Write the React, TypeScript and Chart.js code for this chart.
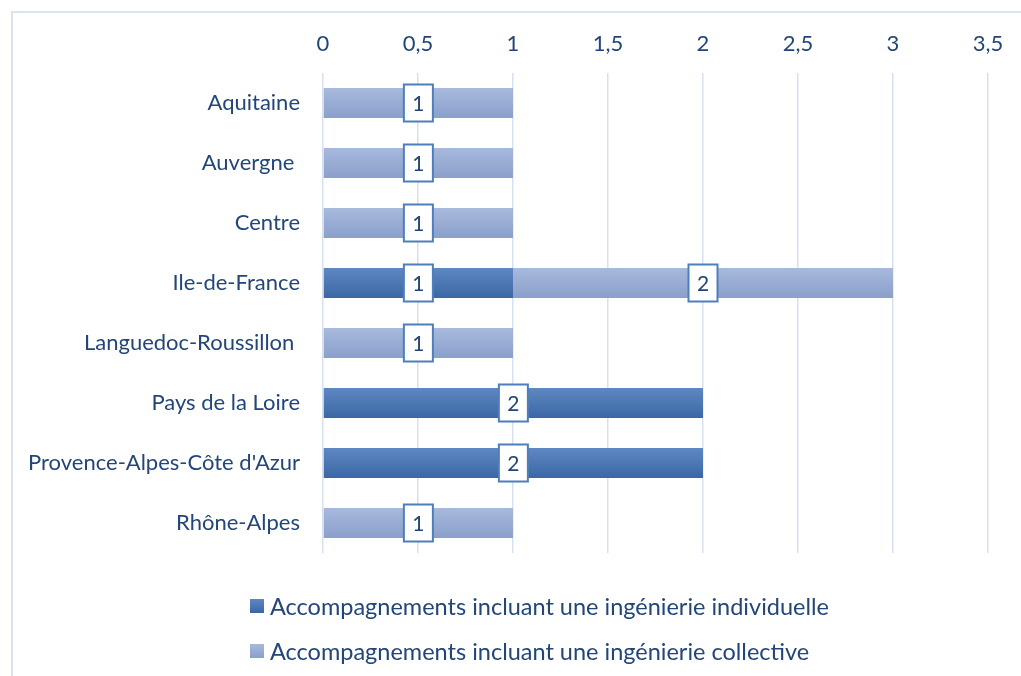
import React, { useEffect, useRef } from "react";
import { Chart, registerables } from "chart.js";

Chart.register(...registerables);

const categories = [
  "Aquitaine",
  "Auvergne ",
  "Centre",
  "Ile-de-France",
  "Languedoc-Roussillon ",
  "Pays de la Loire",
  "Provence-Alpes-Côte d'Azur",
  "Rhône-Alpes",
];
const individuelle = [0, 0, 0, 1, 0, 2, 2, 0];
const collective = [1, 1, 1, 2, 1, 0, 0, 1];
const seriesNames = [
  "Accompagnements incluant une ingénierie individuelle",
  "Accompagnements incluant une ingénierie collective",
];

const FONT = "Lato, 'Open Sans', sans-serif";
const TEXT = "#23467a";
const DARK = ["#5f88c2", "#3a67a5"];
const LIGHT = ["#a7b9dc", "#8a9fcb"];

function gradFill(colors: string[]) {
  return (ctx: any) => {
    const chart = ctx.chart;
    const y = chart.scales?.y;
    if (!chart.chartArea || !y) return colors[1];
    const cy = y.getPixelForValue(ctx.dataIndex);
    const g = chart.ctx.createLinearGradient(0, cy - 15, 0, cy + 15);
    g.addColorStop(0, colors[0]);
    g.addColorStop(1, colors[1]);
    return g;
  };
}

const framePlugin = {
  id: "frame",
  beforeDraw(chart: any) {
    const c = chart.ctx;
    c.save();
    c.strokeStyle = "#dbe3ef";
    c.lineWidth = 2;
    c.beginPath();
    c.moveTo(12, chart.height);
    c.lineTo(12, 12);
    c.lineTo(chart.width, 12);
    c.stroke();
    c.restore();
  },
};

const labelBoxPlugin = {
  id: "labelBoxes",
  afterDatasetsDraw(chart: any) {
    const c = chart.ctx;
    c.save();
    chart.data.datasets.forEach((ds: any, di: number) => {
      const meta = chart.getDatasetMeta(di);
      meta.data.forEach((el: any, i: number) => {
        const v = ds.data[i];
        if (!v) return;
        const cx = (el.x + el.base) / 2;
        const cy = el.y;
        const w = 29, h = 37;
        c.fillStyle = "#ffffff";
        c.fillRect(cx - w / 2, cy - h / 2, w, h);
        c.strokeStyle = "#4f7fbb";
        c.lineWidth = 2;
        c.strokeRect(cx - w / 2, cy - h / 2, w, h);
        c.fillStyle = TEXT;
        c.font = `21px ${FONT}`;
        c.textAlign = "center";
        c.textBaseline = "middle";
        c.fillText(String(v), cx, cy + 1);
      });
    });
    c.restore();
  },
};

export default function App() {
  const ref = useRef<HTMLCanvasElement>(null);
  useEffect(() => {
    const chart = new Chart(ref.current!, {
      type: "bar",
      data: {
        labels: categories,
        datasets: [
          {
            label: seriesNames[0],
            data: individuelle,
            backgroundColor: gradFill(DARK),
            borderWidth: 0,
            barPercentage: 1,
            categoryPercentage: 0.5,
          },
          {
            label: seriesNames[1],
            data: collective,
            backgroundColor: gradFill(LIGHT),
            borderWidth: 0,
            barPercentage: 1,
            categoryPercentage: 0.5,
          },
        ],
      },
      options: {
        indexAxis: "y",
        animation: false,
        responsive: false,
        layout: { padding: { left: 0, top: 0, right: 33, bottom: 123 } },
        plugins: { legend: { display: false }, tooltip: { enabled: false } },
        scales: {
          x: {
            position: "top",
            stacked: true,
            min: 0,
            max: 3.5,
            ticks: {
              stepSize: 0.5,
              color: TEXT,
              font: { family: FONT, size: 22 },
              padding: 16,
              callback: (v: any) => String(v).replace(".", ","),
            },
            grid: { color: "#d6e0f1", lineWidth: 1.5, drawTicks: false },
            border: { display: false },
            afterFit: (s: any) => {
              s.height = 73;
            },
          },
          y: {
            stacked: true,
            ticks: {
              color: TEXT,
              font: { family: FONT, size: 22 },
              padding: 23,
            },
            grid: { display: false, drawTicks: false },
            border: { display: false },
            afterFit: (s: any) => {
              s.width = 323;
            },
          },
        },
      },
      plugins: [framePlugin, labelBoxPlugin],
    });
    return () => chart.destroy();
  }, []);

  const legendColors = [DARK, LIGHT];
  return (
    <div style={{ position: "fixed", left: 0, top: 0, width: 1021, height: 676, background: "#fff" }}>
      <canvas ref={ref} width={1021} height={676} style={{ position: "absolute", left: 0, top: 0 }} />
      {seriesNames.map((name, i) => (
        <div
          key={name}
          style={{
            position: "absolute",
            left: 250,
            top: 591 + i * 45,
            height: 30,
            display: "flex",
            alignItems: "center",
            fontFamily: FONT,
            fontSize: 23.5,
            color: TEXT,
            whiteSpace: "nowrap",
          }}
        >
          <span
            style={{
              display: "inline-block",
              width: 14,
              height: 14,
              marginRight: 6,
              background: `linear-gradient(${legendColors[i][0]}, ${legendColors[i][1]})`,
            }}
          />
          {name}
        </div>
      ))}
    </div>
  );
}
